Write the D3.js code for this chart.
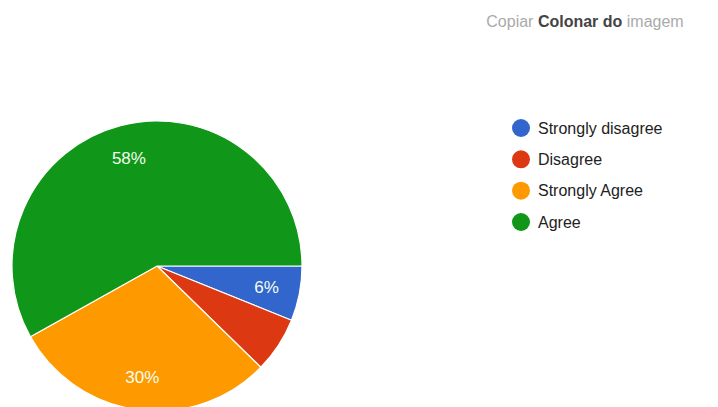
<!DOCTYPE html>
<html>
<head>
<meta charset="utf-8">
<script src="https://cdn.jsdelivr.net/npm/d3@7"></script>
<style>
  body { margin: 0; background: #fff; }
  svg { display: block; font-family: Arial, "Liberation Sans", sans-serif; }
  .legend-label { font-size: 16px; fill: #222; }
  .slice-label { font-size: 17px; fill: #f4fff0; }
</style>
</head>
<body>
<div class="graph-container"></div>
<script>
const categories = ["Strongly disagree", "Disagree", "Strongly Agree", "Agree"];
const values = [6.1, 6.2, 29.6, 58.1];
const sliceLabels = ["6%", "", "30%", "58%"];
const colors = ["#3366cc", "#dc3912", "#ff9900", "#109618"];

const width = 718, height = 407;
const cx = 157, cy = 266, radius = 145;

const svg = d3.select(".graph-container")
  .append("svg")
  .attr("width", width)
  .attr("height", height);

// blurry header text at top right
const header = svg.append("text")
  .attr("x", 585)
  .attr("y", 27)
  .attr("text-anchor", "middle")
  .style("font-size", "16px");
header.append("tspan").attr("fill", "#aaa").text("Copiar ");
header.append("tspan").attr("fill", "#444").style("font-weight", "bold").text("Colonar do ");
header.append("tspan").attr("fill", "#aaa").text("imagem");

const color = d3.scaleOrdinal().domain(categories).range(colors);

// Pie starts at 3 o'clock, going clockwise
const pie = d3.pie()
  .sort(null)
  .value(d => d.value)
  .startAngle(Math.PI / 2)
  .endAngle(Math.PI / 2 + 2 * Math.PI);

const data = categories.map((c, i) => ({ name: c, value: values[i], label: sliceLabels[i] }));
const arcs = pie(data);

const arc = d3.arc().innerRadius(0).outerRadius(radius);
const labelArc = d3.arc().innerRadius(radius * 0.77).outerRadius(radius * 0.77);

const plot = svg.append("g")
  .attr("transform", `translate(${cx},${cy})`);

plot.selectAll("path.slice")
  .data(arcs)
  .enter()
  .append("path")
  .attr("class", "slice")
  .attr("d", arc)
  .attr("fill", d => color(d.data.name))
  .attr("stroke", "#fff")
  .attr("stroke-width", 1.2);

plot.selectAll("text.slice-label")
  .data(arcs.filter(d => d.data.label))
  .enter()
  .append("text")
  .attr("class", "slice-label")
  .attr("transform", d => `translate(${labelArc.centroid(d)})`)
  .attr("text-anchor", "middle")
  .attr("dy", "0.35em")
  .text(d => d.data.label);

// Legend
const legendY = d3.scalePoint()
  .domain(categories)
  .range([128, 222]);

const legend = svg.append("g").attr("class", "legend");

const items = legend.selectAll("g.item")
  .data(categories)
  .enter()
  .append("g")
  .attr("class", "item")
  .attr("transform", d => `translate(521,${legendY(d)})`);

items.append("circle")
  .attr("r", 9)
  .attr("fill", d => color(d));

items.append("text")
  .attr("class", "legend-label")
  .attr("x", 17)
  .attr("dy", "0.35em")
  .text(d => d);
</script>
</body>
</html>
